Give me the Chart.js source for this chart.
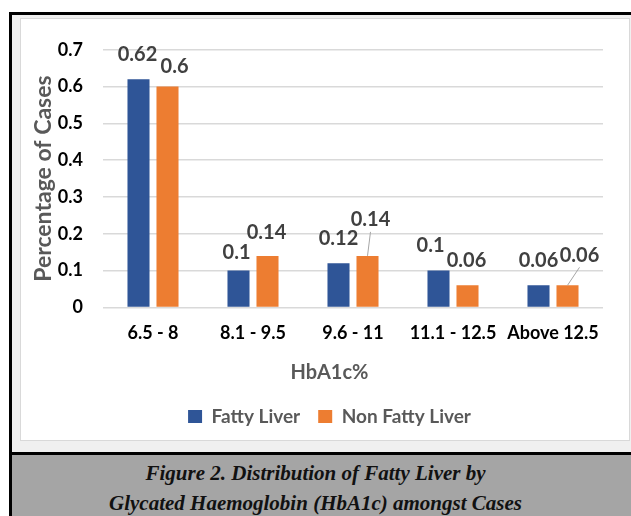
<!DOCTYPE html>
<html>
<head>
<meta charset="utf-8">
<script src="https://cdn.jsdelivr.net/npm/chart.js@4.4.1/dist/chart.umd.min.js"></script>
<style>
  body { margin: 0; background: #fff; width: 631px; height: 516px; overflow: hidden; position: relative; }
  #frame { position: absolute; left: 9px; top: 12px; width: 640px; height: 520px; border-left: 3px solid #000; border-top: 3px solid #000; background: #f0f0f0; }
  #box { position: absolute; left: 20px; top: 18px; width: 608px; height: 421px; background: #fff; border: 1px solid #d9d9d9; }
  #caption { position: absolute; left: 12px; top: 452px; width: 640px; height: 70px; border-top: 3px solid #000; background: #a5a5a5; }
  #caption p { margin: 0; width: 631px; position: absolute; left: -12px; text-align: center; font: italic bold 21px "Liberation Serif", serif; color: #111; }
</style>
</head>
<body>
<div id="frame"></div>
<div id="box"><canvas id="chart" width="608" height="421"></canvas></div>
<div id="caption">
  <p style="top: 6px">Figure 2. Distribution of Fatty Liver by</p>
  <p style="top: 36px">Glycated Haemoglobin (HbA1c) amongst Cases</p>
</div>
<script>
const categories = ['6.5 - 8', '8.1 - 9.5', '9.6 - 11', '11.1 - 12.5', 'Above 12.5'];
const fattyLiver = [0.62, 0.1, 0.12, 0.1, 0.06];
const nonFattyLiver = [0.6, 0.14, 0.14, 0.06, 0.06];
const yTicks = [0, 0.1, 0.2, 0.3, 0.4, 0.5, 0.6, 0.7];

const FONT = 'Lato, "Open Sans", sans-serif';

// value labels above bars, nudged like the Excel original
const labelPlugin = {
    id: 'barLabels',
    afterDatasetsDraw(chart) {
        const ctx = chart.ctx;
        // [dx, dy] per dataset / bar, leader line flag
        const nudge = [
            [[-1, -25], [-2, -18], [0, -25], [-8, -25], [0, -25]],
            [[7, -20], [-1, -23], [3, -36, true], [-1, -25], [12, -30, true]]
        ];
        ctx.save();
        ctx.font = 'bold 20px ' + FONT;
        ctx.fillStyle = '#404040';
        ctx.textAlign = 'center';
        ctx.textBaseline = 'middle';
        chart.data.datasets.forEach((ds, i) => {
            chart.getDatasetMeta(i).data.forEach((bar, j) => {
                const n = nudge[i][j];
                const x = bar.x + n[0];
                const y = bar.y + n[1];
                ctx.fillText(String(ds.data[j]), x, y);
                if (n[2]) {
                    ctx.strokeStyle = '#a6a6a6';
                    ctx.lineWidth = 1;
                    ctx.beginPath();
                    ctx.moveTo(x, y + 12);
                    ctx.lineTo(bar.x, bar.y);
                    ctx.stroke();
                }
            });
        });
        ctx.restore();
    }
};

const ctx = document.getElementById('chart').getContext('2d');
new Chart(ctx, {
    type: 'bar',
    data: {
        labels: categories,
        datasets: [
            { label: 'Fatty Liver', data: fattyLiver, backgroundColor: '#2f5597' },
            { label: 'Non Fatty Liver', data: nonFattyLiver, backgroundColor: '#ed7d31' }
        ]
    },
    options: {
        responsive: false,
        animation: false,
        categoryPercentage: 0.58,
        barPercentage: 0.76,
        layout: { padding: { left: 9, right: 0, top: 30, bottom: 4 } },
        plugins: {
            tooltip: { enabled: false },
            legend: {
                position: 'bottom',
                labels: {
                    boxWidth: 14, boxHeight: 13, padding: 18,
                    color: '#595959',
                    font: { family: FONT, size: 19, weight: 'bold' }
                }
            },
            title: {
                display: true,
                position: 'bottom',
                weight: 500,
                text: 'HbA1c%',
                color: '#595959',
                font: { family: FONT, size: 20, weight: 'bold' },
                padding: { top: 10, bottom: 4 }
            }
        },
        scales: {
            x: {
                grid: { display: false },
                border: { display: false },
                ticks: { color: '#000', font: { family: FONT, size: 18, weight: 'bold' }, padding: 7, maxRotation: 0, autoSkip: false }
            },
            y: {
                min: 0, max: 0.7,
                afterFit(scale) { scale.width = 73; },
                afterBuildTicks(scale) { scale.ticks = yTicks.map(v => ({ value: v })); },
                grid: { color: '#d9d9d9', lineWidth: 1.5, drawTicks: false },
                border: { display: false },
                ticks: { color: '#000', font: { family: FONT, size: 18, weight: 'bold' }, padding: 20 },
                title: {
                    display: true,
                    text: 'Percentage of Cases',
                    color: '#595959',
                    font: { family: FONT, size: 23, weight: 'bold' },
                    padding: 0
                }
            },
            y2: {
                position: 'right',
                afterFit(scale) { scale.width = 26; },
                grid: { display: false },
                border: { display: false },
                ticks: { display: false }
            }
        }
    },
    plugins: [labelPlugin]
});
</script>
</body>
</html>
